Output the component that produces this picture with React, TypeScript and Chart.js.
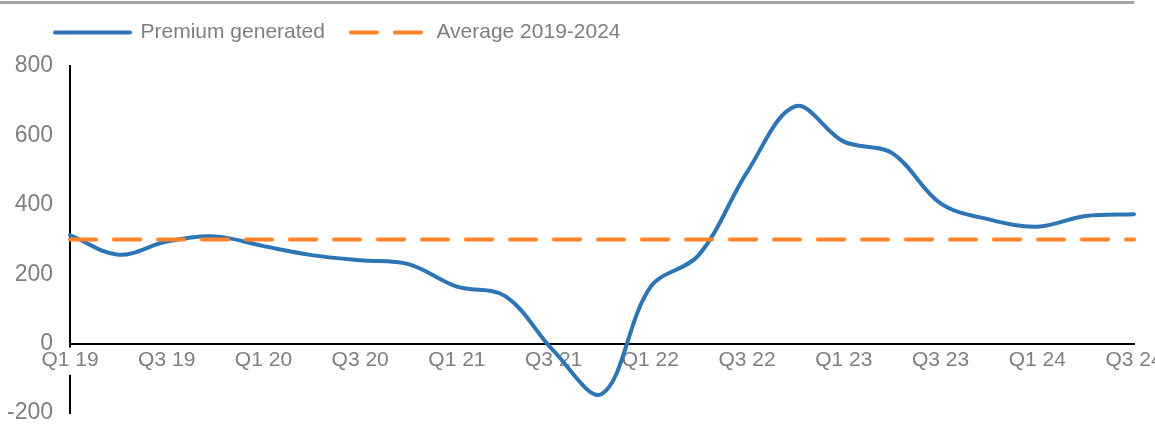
import React, { useEffect, useRef } from 'react';
import { Chart, registerables } from 'chart.js';

Chart.register(...registerables);

const quarters = [
  'Q1 19', 'Q2 19', 'Q3 19', 'Q4 19',
  'Q1 20', 'Q2 20', 'Q3 20', 'Q4 20',
  'Q1 21', 'Q2 21', 'Q3 21', 'Q4 21',
  'Q1 22', 'Q2 22', 'Q3 22', 'Q4 22',
  'Q1 23', 'Q2 23', 'Q3 23', 'Q4 23',
  'Q1 24', 'Q2 24', 'Q3 24',
];

const shownQuarterLabels = [
  'Q1 19', 'Q3 19', 'Q1 20', 'Q3 20', 'Q1 21', 'Q3 21',
  'Q1 22', 'Q3 22', 'Q1 23', 'Q3 23', 'Q1 24', 'Q3 24',
];

const premiumGenerated = [
  313, 256, 294, 309,
  281, 255, 240, 229,
  164, 137, -21, -145,
  163, 255, 494, 684,
  582, 549, 404, 358,
  337, 368, 373,
];

const average2019To2024 = [
  300, 300, 300, 300,
  300, 300, 300, 300,
  300, 300, 300, 300,
  300, 300, 300, 300,
  300, 300, 300, 300,
  300, 300, 300,
];

const yTickValues = [-200, 0, 200, 400, 600, 800];

const seriesNames = ['Premium generated', 'Average 2019-2024'];

const BLUE = '#2E75B6';
const ORANGE = '#FF8427';
const TEXT = '#7F7F7F';
const FONT = "'Liberation Sans', Arial, sans-serif";

const legendPlacementPlugin = {
  id: 'legendPlacement',
  beforeInit(chart: any) {
    const lg = chart.legend;
    if (!lg) return;
    const fit = lg.fit;
    lg.fit = function () {
      fit.call(this);
      this.height = 66;
    };
    const draw = lg.draw;
    lg.draw = function () {
      const ctx = this.ctx;
      ctx.save();
      ctx.translate(29, -4);
      draw.call(this);
      ctx.restore();
    };
  },
};

export default function App() {
  const canvasRef = useRef<HTMLCanvasElement | null>(null);

  useEffect(() => {
    const canvas = canvasRef.current;
    if (!canvas) return;
    const chart = new Chart(canvas, {
      type: 'line',
      data: {
        labels: quarters,
        datasets: [
          {
            label: seriesNames[0],
            data: premiumGenerated,
            borderColor: BLUE,
            backgroundColor: BLUE,
            borderWidth: 4,
            pointRadius: 0,
            pointHoverRadius: 0,
            tension: 0.35,
            borderCapStyle: 'round',
            borderJoinStyle: 'round',
            fill: false,
            order: 1,
          },
          {
            label: seriesNames[1],
            data: average2019To2024,
            borderColor: ORANGE,
            backgroundColor: ORANGE,
            borderWidth: 4,
            borderDash: [26, 18],
            borderCapStyle: 'round',
            pointRadius: 0,
            pointHoverRadius: 0,
            tension: 0,
            fill: false,
            order: 0,
          },
        ],
      },
      options: {
        responsive: false,
        animation: false,
        devicePixelRatio: 1,
        layout: { padding: { left: 0, right: 21, top: 0, bottom: 13 } },
        plugins: {
          tooltip: { enabled: false },
          title: { display: false },
          legend: {
            display: true,
            position: 'top',
            align: 'start',
            labels: {
              usePointStyle: true,
              pointStyle: 'line',
              pointStyleWidth: 75,
              padding: 26,
              color: TEXT,
              font: { family: FONT, size: 21 },
              generateLabels: (c: any) =>
                c.data.datasets.map((ds: any, i: number) => ({
                  text: ds.label,
                  fillStyle: 'rgba(0,0,0,0)',
                  strokeStyle: ds.borderColor,
                  lineWidth: 4,
                  lineDash: ds.borderDash || [],
                  lineCap: 'round',
                  pointStyle: 'line',
                  fontColor: TEXT,
                  hidden: false,
                  datasetIndex: i,
                })),
            },
          },
        },
        scales: {
          x: {
            type: 'category',
            position: { y: 0 },
            offset: false,
            grid: { display: false, drawTicks: false },
            border: { display: true, color: '#000000', width: 2 },
            afterFit: (s: any) => {
              s.paddingLeft = 0;
              s.paddingRight = 0;
              s.height = 0;
            },
            ticks: {
              autoSkip: false,
              maxRotation: 0,
              minRotation: 0,
              padding: 4,
              color: TEXT,
              font: { family: FONT, size: 21 },
              z: 0,
              showLabelBackdrop: (ctx: any) => ctx.index === 0,
              backdropColor: '#ffffff',
              backdropPadding: { top: 0, bottom: 2, left: 2, right: 2 },
              callback: (_v: any, i: number) =>
                shownQuarterLabels.includes(quarters[i]) ? quarters[i] : '',
            },
          },
          y: {
            type: 'linear',
            min: -200,
            max: 800,
            grid: { display: false, drawTicks: false },
            border: { display: true, color: '#000000', width: 2, z: -1 },
            afterBuildTicks: (s: any) => {
              s.ticks = yTickValues.map((v) => ({ value: v }));
            },
            afterFit: (s: any) => {
              s.width = 70;
              s.paddingTop = 0;
              s.paddingBottom = 0;
            },
            ticks: {
              padding: 17,
              color: TEXT,
              font: { family: FONT, size: 23 },
            },
          },
        },
      },
      plugins: [legendPlacementPlugin],
    } as any);
    return () => chart.destroy();
  }, []);

  return (
    <div style={{ position: 'absolute', left: 0, top: 0, width: 1155, height: 426, background: '#ffffff' }}>
      <div style={{ position: 'absolute', left: 0, top: 1, width: 1134, height: 3, background: '#A5A5A5' }} />
      <canvas ref={canvasRef} width={1155} height={426} style={{ display: 'block', width: 1155, height: 426 }} />
    </div>
  );
}
